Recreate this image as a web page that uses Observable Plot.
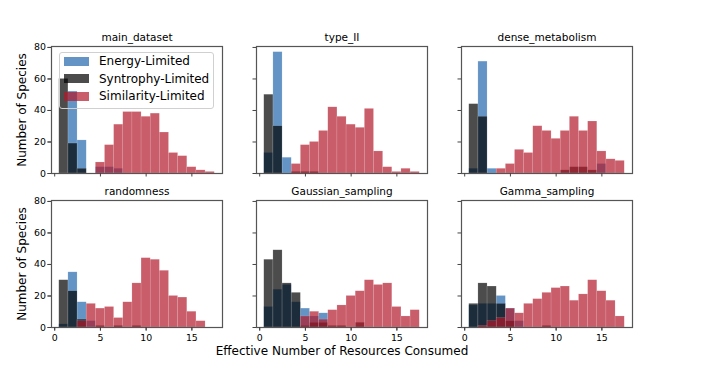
<!DOCTYPE html>
<html><head><meta charset="utf-8">
<script src="https://cdn.jsdelivr.net/npm/d3@7"></script>
<script src="https://cdn.jsdelivr.net/npm/@observablehq/plot@0.6"></script>
<style>
body{margin:0;background:#fff;}
#wrap{position:relative;width:707px;height:375px;font-family:"DejaVu Sans",sans-serif;}
.legend{position:absolute;left:59px;top:52px;width:155px;height:57px;border:1px solid #d0d0d0;border-radius:3px;box-sizing:border-box;}
.item{position:absolute;left:4px;height:14px;display:flex;align-items:center;font-size:12px;color:#000;white-space:nowrap;}
.sw{width:25px;height:9px;margin-right:10px;}
</style></head><body><div id="wrap"></div>
<script>
const panels = ["main_dataset","type_II","dense_metabolism","randomness","Gaussian_sampling","Gamma_sampling"];
const bins = [1,2,3,4,5,6,7,8,9,10,11,12,13,14,15,16,17];
const seriesNames = ["Energy-Limited","Syntrophy-Limited","Similarity-Limited"];
const seriesColors = ["#2166ac","#000000","#b2182b"];
const xTicks = [0,5,10,15];
const yTicks = [0,20,40,60,80];
const xLabel = "Effective Number of Resources Consumed";
const yLabel = "Number of Species";

// counts per bin (bins 1..17), one row per panel
const energyLimited = [
  [0,52,21,0,4,4,3,0,0,0,0,0,0,0,0,0,0],
  [13,77,10,0,0,0,0,0,0,0,0,0,0,0,0,0,0],
  [3,71,3,0,0,0,0,0,0,0,0,0,0,0,6,0,0],
  [2,35,16,4,0,0,0,0,0,0,0,0,0,0,0,0,0],
  [13,24,27,16,12,7,9,0,0,0,0,0,0,0,0,0,0],
  [14,15,15,20,12,4,0,0,0,0,0,0,0,0,0,0,0]
];
const syntrophyLimited = [
  [60,19,3,0,0,0,0,0,0,0,0,0,0,0,0,0,0],
  [50,30,0,1,1,1,0,0,0,0,0,0,0,0,0,0,0],
  [44,36,0,0,0,0,0,0,0,0,2,4,4,2,0,0,0],
  [30,23,5,0,1,0,1,0,1,0,0,0,0,0,0,0,0],
  [43,49,28,22,1,3,3,1,1,0,3,0,0,0,0,0,0],
  [15,28,26,15,4,0,0,0,1,0,0,0,0,0,0,0,0]
];
const similarityLimited = [
  [0,0,0,0,7,18,31,39,39,36,38,26,13,11,4,2,1],
  [0,0,0,6,18,20,27,42,36,31,29,41,14,4,1,3,1],
  [0,0,0,3,6,15,13,30,27,22,27,36,27,33,14,9,8],
  [0,0,4,15,12,13,6,16,28,44,43,36,20,19,10,4,0],
  [0,0,0,0,7,10,5,11,14,20,23,30,27,28,13,7,11],
  [0,1,4,6,12,9,15,18,22,25,26,17,21,30,23,17,7]
];

const seriesData = [energyLimited, syntrophyLimited, similarityLimited];
const rows = [];
seriesData.forEach((arr, s) => {
  arr.forEach((counts, p) => {
    counts.forEach((c, j) => {
      if (c > 0) rows.push({series: s, panel: panels[p], col: p % 3, row: Math.floor(p / 3), x1: bins[j] - 0.5, x2: bins[j] + 0.5, count: c});
    });
  });
});
const panelInfo = panels.map((name, p) => ({name, col: p % 3, row: Math.floor(p / 3)}));
const yLabelRows = [{row: 0, col: 0, text: yLabel}, {row: 1, col: 0, text: yLabel}];
const xLabelRows = [{row: 1, col: 1, text: xLabel}];

const barMarks = seriesColors.map((color, s) =>
  Plot.rectY(rows.filter(d => d.series === s), {
    x1: "x1", x2: "x2", y: "count", fx: "col", fy: "row",
    fill: color, fillOpacity: 0.7, stroke: "white", strokeOpacity: 0.25, strokeWidth: 0.5
  })
);

const chart = Plot.plot({
  width: 707, height: 375,
  marginLeft: 51, marginRight: 75, marginTop: 45, marginBottom: 47,
  style: {fontFamily: "DejaVu Sans", fontSize: "9.4px", color: "#000", background: "white"},
  fx: {domain: [0,1,2], axis: null, paddingInner: 0.166, paddingOuter: 0},
  fy: {domain: [0,1], axis: null, paddingInner: 0.174, paddingOuter: 0},
  x: {domain: [-0.35, 18.35]},
  y: {domain: [0, 80.6]},
  marks: [
    ...barMarks,
    Plot.frame({stroke: "#555", strokeWidth: 1.2}),
    Plot.axisX({ticks: xTicks, tickSize: 3.5, tickFormat: () => "", facetAnchor: null, label: null, stroke: "#444"}),
    Plot.axisX({ticks: xTicks, tickSize: 3.5, tickPadding: 3, facetAnchor: "bottom", label: null, stroke: "#444"}),
    Plot.axisY({ticks: yTicks, tickSize: 3.5, tickFormat: () => "", facetAnchor: null, label: null, stroke: "#444"}),
    Plot.axisY({ticks: yTicks, tickSize: 3.5, tickPadding: 2, facetAnchor: "left", label: null, stroke: "#444"}),
    Plot.text(panelInfo, {fx: "col", fy: "row", text: "name", frameAnchor: "top", dy: -9, lineAnchor: "middle", fontSize: 10.5}),
    Plot.text(yLabelRows, {fx: "col", fy: "row", text: "text", frameAnchor: "left", textAnchor: "middle", rotate: -90, dx: -29, lineAnchor: "middle", fontSize: 12}),
    Plot.text(xLabelRows, {fx: "col", fy: "row", text: "text", frameAnchor: "bottom", dy: 23.5, lineAnchor: "middle", fontSize: 12})
  ]
});
const wrap = document.getElementById("wrap");
wrap.appendChild(chart);

const legend = document.createElement("div");
legend.className = "legend";
const tops = [1, 18.7, 36];
seriesNames.forEach((name, i) => {
  const item = document.createElement("div");
  item.className = "item";
  item.style.top = tops[i] + "px";
  const sw = document.createElement("span");
  sw.className = "sw";
  sw.style.background = seriesColors[i];
  sw.style.opacity = 0.7;
  item.appendChild(sw);
  const t = document.createElement("span");
  t.textContent = name;
  item.appendChild(t);
  legend.appendChild(item);
});
wrap.appendChild(legend);
</script></body></html>
